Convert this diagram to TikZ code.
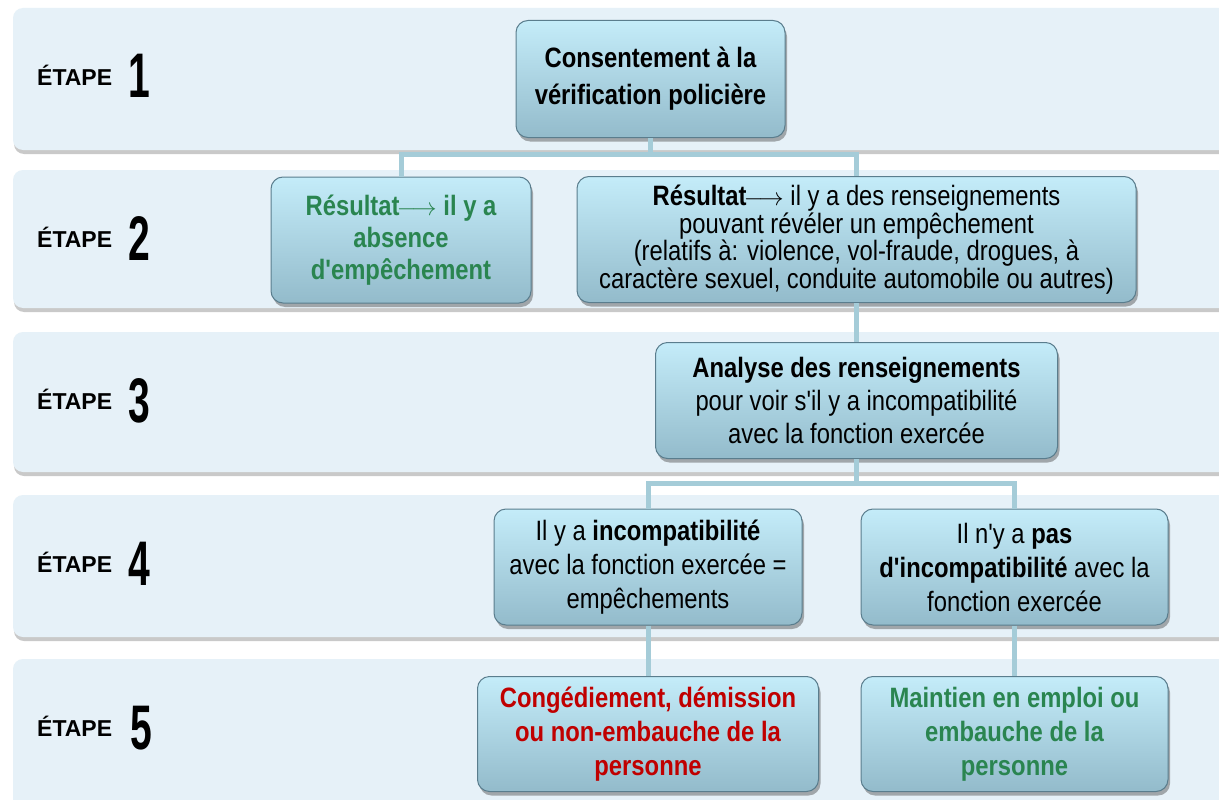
\documentclass[tikz,border=0pt]{standalone}
\usepackage{fontspec}
\setmainfont{Liberation Sans}
\newfontfamily\boxfont{Liberation Sans}[FakeStretch=0.85, Ligatures=TeXOff]
\newfontfamily\digfont{Liberation Sans}[FakeStretch=0.62]
\usetikzlibrary{shadows}
\definecolor{bandfill}{HTML}{E6F1F8}
\definecolor{boxtop}{HTML}{C4ECF9}
\definecolor{boxbot}{HTML}{93BBCB}
\definecolor{boxline}{HTML}{5A7D8D}
\definecolor{conncol}{HTML}{A5CCD8}
\definecolor{okgreen}{HTML}{2A8550}
\definecolor{nored}{HTML}{C00000}
\newcommand{\resarrow}{$\mkern-2mu\longrightarrow$}
\begin{document}
\begin{tikzpicture}[x=1pt,y=-1pt,
 band/.style={fill=bandfill, rounded corners=10pt,
   drop shadow={shadow xshift=1pt, shadow yshift=-4pt, opacity=0.35, fill=black!60}},
 stepbox/.style={draw=boxline, line width=1pt, rounded corners=12pt,
   top color=boxtop, bottom color=boxbot, align=center, inner sep=2pt,
   font=\boxfont\fontsize{28}{33}\selectfont,
   drop shadow={shadow xshift=2pt, shadow yshift=-4pt, opacity=0.45, fill=black!70}},
 conn/.style={draw=conncol, line width=5pt},
 etape/.style={anchor=base west, inner sep=0pt, font=\bfseries\fontsize{23}{23}\selectfont},
 num/.style={anchor=base, inner sep=0pt, font=\digfont\bfseries\fontsize{63}{63}\selectfont}]
\useasboundingbox (0,0) rectangle (1219,800);
\fill[white] (0,0) rectangle (1219,800);
\clip (0,0) rectangle (1219,800);
% bands
\path[band] (13,8) rectangle (1240,150);
\path[band] (13,170) rectangle (1240,308);
\path[band] (13,332) rectangle (1240,472);
\path[band] (13,495) rectangle (1240,637);
\path[band] (13,659) rectangle (1240,830);
% stage labels
\node[etape] (e1) at (37,85) {ÉTAPE};  \node[num] (n1) at (139,98) {1};
\node[etape] (e2) at (37,247) {ÉTAPE}; \node[num] (n2) at (139,260) {2};
\node[etape] (e3) at (37,409) {ÉTAPE}; \node[num] (n3) at (139,422) {3};
\node[etape] (e4) at (37,572) {ÉTAPE}; \node[num] (n4) at (139,585) {4};
\node[etape] (e5) at (37,736) {ÉTAPE}; \node[num] (n5) at (141,749) {5};
% boxes
\node[stepbox, minimum width=269pt, minimum height=117pt, font=\boxfont\bfseries\fontsize{28}{37}\selectfont] (b1) at (650.5,79)
  {Consentement à la\\vérification policière};
\node[stepbox, minimum width=260pt, minimum height=126pt, text=okgreen, font=\boxfont\bfseries\fontsize{28}{32}\selectfont] (b2a) at (401,240)
  {Résultat\resarrow{} il y a\\absence\\d'empêchement};
\node[stepbox, minimum width=559pt, minimum height=126pt, font=\boxfont\fontsize{28}{26}\selectfont] (b2b) at (856.5,239.5)
  {\textbf{Résultat}\resarrow{} il y a des renseignements\\pouvant révéler un empêchement\\(relatifs à: violence, vol-fraude, drogues, à\\caractère sexuel, conduite automobile ou autres)};
\node[stepbox, minimum width=402pt, minimum height=116pt] (b3) at (856.5,400.5)
  {\textbf{Analyse des renseignements}\\pour voir s'il y a incompatibilité\\avec la fonction exercée};
\node[stepbox, minimum width=308pt, minimum height=116pt, font=\boxfont\fontsize{28}{34}\selectfont] (b4a) at (648,567)
  {Il y a \textbf{incompatibilité}\\avec la fonction exercée =\\empêchements};
\node[stepbox, minimum width=307pt, minimum height=116pt, font=\boxfont\fontsize{28}{34}\selectfont] (b4b) at (1014.5,567)
  {Il n'y a \textbf{pas}\\\textbf{d'incompatibilité} avec la\\fonction exercée};
\node[stepbox, minimum width=341pt, minimum height=115pt, text=nored, font=\boxfont\bfseries\fontsize{28}{34}\selectfont] (b5a) at (648,734)
  {Congédiement, démission\\ou non-embauche de la\\personne};
\node[stepbox, minimum width=307pt, minimum height=115pt, text=okgreen, font=\boxfont\bfseries\fontsize{28}{34}\selectfont] (b5b) at (1014.5,734)
  {Maintien en emploi ou\\embauche de la\\personne};
% connectors
\coordinate (j1) at (650.5,154);
\coordinate (j3) at (856.5,483);
\draw[conn] (b1.south) -- (j1);
\draw[conn] (j1) -| (b2a.north);
\draw[conn] (j1) -| (b2b.north);
\draw[conn] (b2b.south) -- (b3.north);
\draw[conn] (b3.south) -- (j3);
\draw[conn] (j3) -| (b4a.north);
\draw[conn] (j3) -| (b4b.north);
\draw[conn] (b4a.south) -- (b5a.north);
\draw[conn] (b4b.south) -- (b5b.north);
\end{tikzpicture}
\end{document}
